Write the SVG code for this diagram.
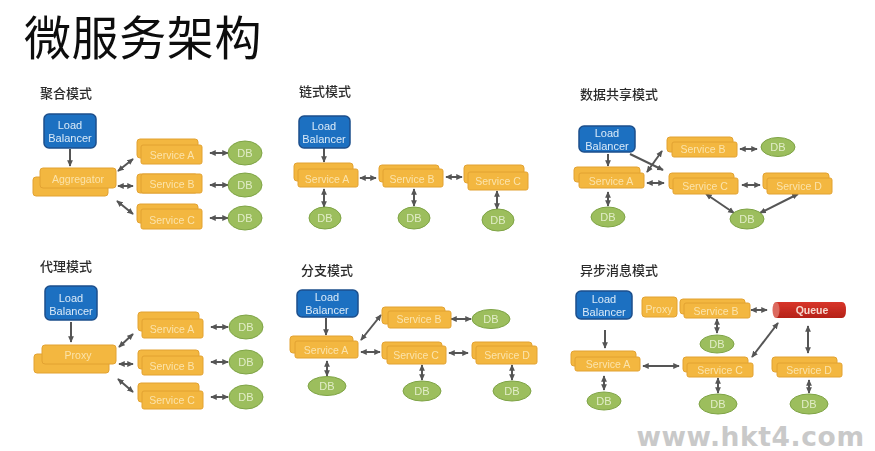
<svg xmlns="http://www.w3.org/2000/svg" width="875" height="451" viewBox="0 0 875 451">
<style>
text{font-family:"Liberation Sans",Arial,sans-serif;text-anchor:middle}
.h{font-family:"Noto Sans CJK SC",sans-serif;font-size:13px;fill:#2b2b2b;text-anchor:start;font-weight:500}
.t{font-family:"Noto Sans CJK SC",sans-serif;font-size:47px;letter-spacing:0.6px;fill:#111;text-anchor:start;font-weight:400}
.s{fill:#f3b73f;stroke:#e2a233;stroke-width:1}
.st{font-size:10.5px;fill:#fbe3ab}
.lb{fill:#1f70c1;stroke:#1b4f8c;stroke-width:1.5}
.lt{font-size:11px;fill:#d8eaf8}
.db{fill:#9cbe5d;stroke:#7ea345;stroke-width:1}
.dt{font-size:11px;fill:#e2edc8}
.c line{stroke:#555;stroke-width:2;fill:none}
.d{marker-start:url(#a);marker-end:url(#a)}
.o{marker-end:url(#a)}
</style>
<defs>
<marker id="a" viewBox="0 0 8 8" refX="7" refY="4" markerWidth="3.3" markerHeight="3.3" orient="auto-start-reverse"><path d="M0 0.5L8 4L0 7.5Z" fill="#555"/></marker>
<filter id="b" filterUnits="userSpaceOnUse" x="0" y="0" width="875" height="451"><feGaussianBlur stdDeviation="0.45"/></filter>
<linearGradient id="q" x1="0" x2="0" y1="0" y2="1"><stop offset="0" stop-color="#d8352a"/><stop offset="1" stop-color="#b52218"/></linearGradient>
</defs>
<rect width="875" height="451" fill="#fff"/>
<g filter="url(#b)">
<text class="t" x="24" y="55">微服务架构</text>
<g id="headings">
<text class="h" x="40" y="98">聚合模式</text>
<text class="h" x="299" y="96">链式模式</text>
<text class="h" x="580" y="99">数据共享模式</text>
<text class="h" x="40" y="271">代理模式</text>
<text class="h" x="301" y="275">分支模式</text>
<text class="h" x="580" y="275">异步消息模式</text>
</g>

<g id="connectors" class="c">
<line class="o" x1="70" y1="149" x2="70" y2="166"/>
<line class="d" x1="118" y1="171" x2="133" y2="159"/>
<line class="d" x1="118" y1="186" x2="133" y2="186"/>
<line class="d" x1="117" y1="201" x2="133" y2="214"/>
<line class="d" x1="210" y1="153" x2="228" y2="153"/>
<line class="d" x1="210" y1="185" x2="228" y2="185"/>
<line class="d" x1="210" y1="218" x2="228" y2="218"/>

<line class="o" x1="324" y1="148" x2="324" y2="162"/>
<line class="d" x1="360" y1="178" x2="376" y2="178"/>
<line class="d" x1="446" y1="177" x2="462" y2="177"/>
<line class="d" x1="324" y1="189" x2="324" y2="207"/>
<line class="d" x1="414" y1="189" x2="414" y2="206"/>
<line class="d" x1="497" y1="191" x2="497" y2="209"/>

<line class="o" x1="608" y1="154" x2="608" y2="166"/>
<line class="o" x1="630" y1="154" x2="663" y2="170"/>
<line class="d" x1="647" y1="172" x2="662" y2="151"/>
<line class="d" x1="647" y1="183" x2="664" y2="183"/>
<line class="d" x1="740" y1="149" x2="757" y2="149"/>
<line class="d" x1="742" y1="185" x2="760" y2="185"/>
<line class="d" x1="706" y1="194" x2="734" y2="213"/>
<line class="d" x1="798" y1="194" x2="760" y2="213"/>
<line class="d" x1="608" y1="192" x2="608" y2="206"/>

<line class="o" x1="71" y1="322" x2="71" y2="342"/>
<line class="d" x1="119" y1="347" x2="133" y2="334"/>
<line class="d" x1="119" y1="364" x2="133" y2="364"/>
<line class="d" x1="118" y1="379" x2="133" y2="392"/>
<line class="d" x1="211" y1="327" x2="228" y2="327"/>
<line class="d" x1="211" y1="362" x2="228" y2="362"/>
<line class="d" x1="211" y1="397" x2="228" y2="397"/>

<line class="o" x1="326" y1="318" x2="326" y2="335"/>
<line class="d" x1="361" y1="340" x2="381" y2="315"/>
<line class="d" x1="361" y1="352" x2="380" y2="352"/>
<line class="d" x1="451" y1="319" x2="471" y2="319"/>
<line class="d" x1="449" y1="353" x2="468" y2="353"/>
<line class="d" x1="327" y1="361" x2="327" y2="376"/>
<line class="d" x1="422" y1="365" x2="422" y2="380"/>
<line class="d" x1="512" y1="365" x2="512" y2="380"/>

<line class="o" x1="605" y1="330" x2="605" y2="348"/>
<line class="d" x1="643" y1="366" x2="679" y2="366"/>
<line class="d" x1="751" y1="310" x2="767" y2="310"/>
<line class="d" x1="717" y1="319" x2="717" y2="333"/>
<line class="d" x1="778" y1="323" x2="752" y2="357"/>
<line class="d" x1="808" y1="326" x2="808" y2="353"/>
<line class="d" x1="718" y1="378" x2="718" y2="393"/>
<line class="d" x1="809" y1="380" x2="809" y2="393"/>
<line class="d" x1="604" y1="376" x2="604" y2="390"/>
</g>

<g id="p1-lb"><rect class="lb" x="44" y="114" width="52" height="34" rx="5"/><text class="lt" x="70" y="129">Load</text><text class="lt" x="70" y="142">Balancer</text></g>
<g id="p1-agg"><rect class="s" x="33" y="177" width="75" height="19" rx="3"/><rect class="s" x="40" y="168" width="76" height="20" rx="3"/><text class="st" x="78" y="183">Aggregator</text></g>
<g id="p1-a"><rect class="s" x="137" y="139" width="61" height="19" rx="3"/><rect class="s" x="141" y="145" width="61" height="19" rx="2"/><text class="st" x="172" y="159">Service A</text></g>
<g id="p1-b"><rect class="s" x="137" y="174" width="61" height="19" rx="3"/><rect class="s" x="141" y="174" width="61" height="19" rx="2"/><text class="st" x="172" y="188">Service B</text></g>
<g id="p1-c"><rect class="s" x="137" y="204" width="61" height="19" rx="3"/><rect class="s" x="141" y="209" width="61" height="20" rx="2"/><text class="st" x="172" y="224">Service C</text></g>
<g id="p1-db1"><ellipse class="db" cx="245" cy="153" rx="17" ry="12"/><text class="dt" x="245" y="157">DB</text></g>
<g id="p1-db2"><ellipse class="db" cx="245" cy="185" rx="17" ry="12"/><text class="dt" x="245" y="189">DB</text></g>
<g id="p1-db3"><ellipse class="db" cx="245" cy="218" rx="17" ry="12"/><text class="dt" x="245" y="222">DB</text></g>

<g id="p2-lb"><rect class="lb" x="299" y="116" width="51" height="32" rx="5"/><text class="lt" x="324" y="130">Load</text><text class="lt" x="324" y="143">Balancer</text></g>
<g id="p2-a"><rect class="s" x="294" y="163" width="59" height="18" rx="3"/><rect class="s" x="298" y="169" width="60" height="18" rx="2"/><text class="st" x="327" y="183">Service A</text></g>
<g id="p2-b"><rect class="s" x="379" y="165" width="60" height="17" rx="3"/><rect class="s" x="383" y="169" width="60" height="18" rx="2"/><text class="st" x="412" y="183">Service B</text></g>
<g id="p2-c"><rect class="s" x="464" y="165" width="60" height="18" rx="3"/><rect class="s" x="468" y="172" width="60" height="18" rx="2"/><text class="st" x="498" y="185">Service C</text></g>
<g id="p2-db1"><ellipse class="db" cx="325" cy="218" rx="16" ry="11"/><text class="dt" x="325" y="222">DB</text></g>
<g id="p2-db2"><ellipse class="db" cx="414" cy="218" rx="16" ry="11"/><text class="dt" x="414" y="222">DB</text></g>
<g id="p2-db3"><ellipse class="db" cx="498" cy="220" rx="16" ry="11"/><text class="dt" x="498" y="224">DB</text></g>

<g id="p3-lb"><rect class="lb" x="579" y="126" width="56" height="26" rx="5"/><text class="lt" x="607" y="137">Load</text><text class="lt" x="607" y="150">Balancer</text></g>
<g id="p3-a"><rect class="s" x="574" y="167" width="66" height="15" rx="3"/><rect class="s" x="579" y="173" width="65" height="15" rx="2"/><text class="st" x="611" y="185">Service A</text></g>
<g id="p3-b"><rect class="s" x="667" y="137" width="66" height="15" rx="3"/><rect class="s" x="672" y="142" width="65" height="15" rx="2"/><text class="st" x="703" y="153">Service B</text></g>
<g id="p3-c"><rect class="s" x="669" y="173" width="65" height="16" rx="3"/><rect class="s" x="673" y="178" width="65" height="16" rx="2"/><text class="st" x="705" y="190">Service C</text></g>
<g id="p3-d"><rect class="s" x="763" y="173" width="66" height="16" rx="3"/><rect class="s" x="767" y="178" width="65" height="16" rx="2"/><text class="st" x="799" y="190">Service D</text></g>
<g id="p3-db1"><ellipse class="db" cx="778" cy="147" rx="17" ry="9.5"/><text class="dt" x="778" y="151">DB</text></g>
<g id="p3-db2"><ellipse class="db" cx="608" cy="217" rx="17" ry="10"/><text class="dt" x="608" y="221">DB</text></g>
<g id="p3-db3"><ellipse class="db" cx="747" cy="219" rx="17" ry="10"/><text class="dt" x="747" y="223">DB</text></g>

<g id="p4-lb"><rect class="lb" x="45" y="286" width="52" height="34" rx="5"/><text class="lt" x="71" y="302">Load</text><text class="lt" x="71" y="315">Balancer</text></g>
<g id="p4-proxy"><rect class="s" x="34" y="354" width="75" height="19" rx="3"/><rect class="s" x="42" y="345" width="74" height="19" rx="3"/><text class="st" x="78" y="359">Proxy</text></g>
<g id="p4-a"><rect class="s" x="138" y="312" width="61" height="19" rx="3"/><rect class="s" x="142" y="319" width="61" height="19" rx="2"/><text class="st" x="172" y="333">Service A</text></g>
<g id="p4-b"><rect class="s" x="138" y="350" width="61" height="19" rx="3"/><rect class="s" x="142" y="356" width="61" height="19" rx="2"/><text class="st" x="172" y="370">Service B</text></g>
<g id="p4-c"><rect class="s" x="138" y="383" width="61" height="19" rx="3"/><rect class="s" x="142" y="391" width="61" height="18" rx="2"/><text class="st" x="172" y="404">Service C</text></g>
<g id="p4-db1"><ellipse class="db" cx="246" cy="327" rx="17" ry="12"/><text class="dt" x="246" y="331">DB</text></g>
<g id="p4-db2"><ellipse class="db" cx="246" cy="362" rx="17" ry="12"/><text class="dt" x="246" y="366">DB</text></g>
<g id="p4-db3"><ellipse class="db" cx="246" cy="397" rx="17" ry="12"/><text class="dt" x="246" y="401">DB</text></g>

<g id="p5-lb"><rect class="lb" x="297" y="290" width="61" height="27" rx="5"/><text class="lt" x="327" y="301">Load</text><text class="lt" x="327" y="314">Balancer</text></g>
<g id="p5-a"><rect class="s" x="290" y="336" width="63" height="17" rx="3"/><rect class="s" x="295" y="341" width="63" height="17" rx="2"/><text class="st" x="326" y="354">Service A</text></g>
<g id="p5-b"><rect class="s" x="382" y="307" width="63" height="17" rx="3"/><rect class="s" x="388" y="311" width="63" height="17" rx="2"/><text class="st" x="419" y="323">Service B</text></g>
<g id="p5-c"><rect class="s" x="382" y="342" width="60" height="17" rx="3"/><rect class="s" x="387" y="346" width="59" height="18" rx="2"/><text class="st" x="416" y="359">Service C</text></g>
<g id="p5-d"><rect class="s" x="472" y="342" width="60" height="17" rx="3"/><rect class="s" x="476" y="346" width="61" height="18" rx="2"/><text class="st" x="507" y="359">Service D</text></g>
<g id="p5-db1"><ellipse class="db" cx="327" cy="386" rx="19" ry="9.5"/><text class="dt" x="327" y="390">DB</text></g>
<g id="p5-db2"><ellipse class="db" cx="491" cy="319" rx="19" ry="9.5"/><text class="dt" x="491" y="323">DB</text></g>
<g id="p5-db3"><ellipse class="db" cx="422" cy="391" rx="19" ry="10"/><text class="dt" x="422" y="395">DB</text></g>
<g id="p5-db4"><ellipse class="db" cx="512" cy="391" rx="19" ry="10"/><text class="dt" x="512" y="395">DB</text></g>

<g id="p6-lb"><rect class="lb" x="576" y="291" width="56" height="28" rx="5"/><text class="lt" x="604" y="303">Load</text><text class="lt" x="604" y="316">Balancer</text></g>
<g id="p6-proxy"><rect class="s" x="642" y="297" width="35" height="20" rx="3"/><text class="st" x="659" y="313">Proxy</text></g>
<g id="p6-b"><rect class="s" x="680" y="299" width="65" height="15" rx="3"/><rect class="s" x="684" y="303" width="66" height="15" rx="2"/><text class="st" x="716" y="315">Service B</text></g>
<g id="p6-queue"><path d="M776 302H842Q846 302 846 310Q846 318 842 318H776Z" fill="url(#q)"/><ellipse cx="776" cy="310" rx="3.5" ry="8" fill="#dc6a5e"/><text x="812" y="314" font-size="10.5" font-weight="bold" fill="#f6d9cf">Queue</text></g>
<g id="p6-a"><rect class="s" x="571" y="351" width="65" height="15" rx="3"/><rect class="s" x="575" y="357" width="65" height="14" rx="2"/><text class="st" x="608" y="368">Service A</text></g>
<g id="p6-c"><rect class="s" x="683" y="357" width="65" height="15" rx="3"/><rect class="s" x="687" y="363" width="66" height="14" rx="2"/><text class="st" x="720" y="374">Service C</text></g>
<g id="p6-d"><rect class="s" x="772" y="357" width="65" height="15" rx="3"/><rect class="s" x="777" y="363" width="65" height="14" rx="2"/><text class="st" x="809" y="374">Service D</text></g>
<g id="p6-db1"><ellipse class="db" cx="717" cy="344" rx="17" ry="9"/><text class="dt" x="717" y="348">DB</text></g>
<g id="p6-db2"><ellipse class="db" cx="604" cy="401" rx="17" ry="9"/><text class="dt" x="604" y="405">DB</text></g>
<g id="p6-db3"><ellipse class="db" cx="718" cy="404" rx="19" ry="10"/><text class="dt" x="718" y="408">DB</text></g>
<g id="p6-db4"><ellipse class="db" cx="809" cy="404" rx="19" ry="10"/><text class="dt" x="809" y="408">DB</text></g>
</g>
<text x="750.5" y="446" font-size="26.5" font-weight="bold" letter-spacing="0.6" style="font-family:'DejaVu Sans',sans-serif" fill="#c9c9c9">www.hkt4.com</text>
</svg>
